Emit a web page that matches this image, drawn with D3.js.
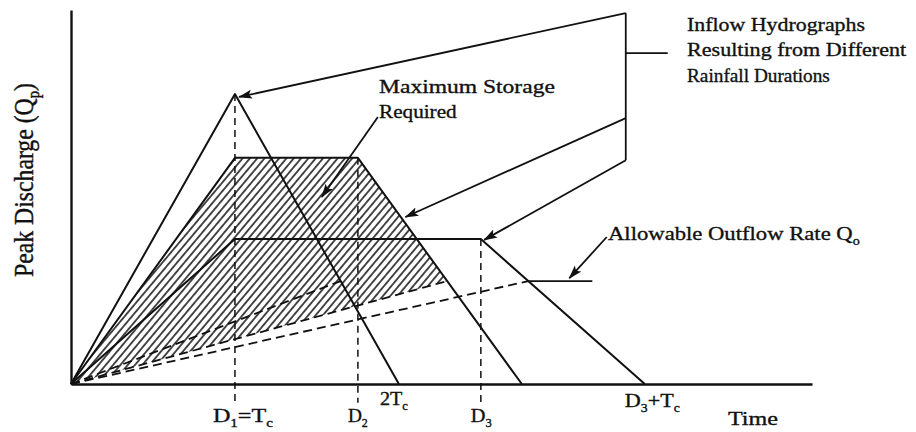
<!DOCTYPE html>
<html>
<head>
<meta charset="utf-8">
<script src="https://cdn.jsdelivr.net/npm/d3@7"></script>
<style>
  body { margin: 0; background: #fff; }
  svg { display: block; }
  text { font-family: "Liberation Serif", "Times New Roman", serif; fill: #111; stroke: #111; stroke-width: 0.35px; }
</style>
</head>
<body>
<div id="chart"></div>
<script>
// time in units of Tc, discharge relative to the peak of the shortest storm
const tc = 1;
const durations = [1, 1.75, 2.5];        // D1, D2, D3
const peakQ = [1.0, 0.78, 0.5];          // peak / plateau of each inflow hydrograph
const outflowQ = 0.355;                  // allowable outflow rate Qo
const timeMax = 4.52, qMax = 1.29;

// texts ("_x" = subscript x)
const durationLabels = ["D_1=T_c", "D_2", "D_3"];
const endLabels = ["2T_c", "D_3+T_c"];
const axisTitles = ["Time", "Peak Discharge (Q_p)"];
const notes = ["Maximum Storage", "Required", "Inflow Hydrographs",
  "Resulting from Different", "Rainfall Durations", "Allowable Outflow Rate Q_o"];

var margin = {top: 10, right: 104, bottom: 48, left: 71},
  width = 916 - margin.left - margin.right,
  height = 432 - margin.top - margin.bottom;

let root = d3.select("#chart").append("svg")
  .attr("width", 916).attr("height", 432);
let svg = root.append("g")
  .attr("transform", "translate(" + margin.left + "," + margin.top + ")");

var x = d3.scaleLinear().domain([0, timeMax]).range([0, width]);
var y = d3.scaleLinear().domain([0, qMax]).range([height, 0]);
var line = d3.line().x(d => x(d[0])).y(d => y(d[1]));

let defs = root.append("defs");
defs.append("pattern")
  .attr("id", "hatch").attr("patternUnits", "userSpaceOnUse")
  .attr("width", 5.6).attr("height", 10)
  .attr("patternTransform", "rotate(40)")
  .append("line")
  .attr("x1", 2.8).attr("y1", 0).attr("x2", 2.8).attr("y2", 10)
  .attr("stroke", "#111").attr("stroke-width", 1.5);
defs.append("marker")
  .attr("id", "head").attr("markerUnits", "userSpaceOnUse")
  .attr("viewBox", "0 -5 14 10").attr("refX", 13).attr("refY", 0)
  .attr("markerWidth", 14).attr("markerHeight", 10).attr("orient", "auto")
  .append("path").attr("d", "M0,-4.5L14,0L0,4.5L3,0Z").attr("fill", "#111");

// inflow hydrographs: rise over Tc, plateau to D, recede over Tc
let hydro = durations.map((d, i) => [[0, 0], [tc, peakQ[i]], [d, peakQ[i]], [d + tc, 0]]);
// outflow rises linearly until it meets the receding limb at Qo
let outEnd = durations.map((d, i) => [d + tc * (1 - outflowQ / peakQ[i]), outflowQ]);

// maximum storage (hatched) = hydrograph 2 above its outflow line
svg.append("path")
  .datum([[0, 0], [tc, peakQ[1]], [durations[1], peakQ[1]], outEnd[1], [0, 0]])
  .attr("fill", "url(#hatch)").attr("stroke", "none")
  .attr("d", line);

// axes
svg.append("g")
  .attr("transform", "translate(0," + height + ")")
  .call(d3.axisBottom(x).tickValues([]).tickSizeOuter(0))
  .select(".domain").attr("stroke", "#111").attr("stroke-width", 2.4);
svg.append("g")
  .call(d3.axisLeft(y).tickValues([]).tickSizeOuter(0))
  .select(".domain").attr("stroke", "#111").attr("stroke-width", 2.4);

// hydrographs
svg.selectAll(".hydro").data(hydro).enter().append("path")
  .attr("class", "hydro")
  .attr("fill", "none").attr("stroke", "#111").attr("stroke-width", 2)
  .attr("stroke-linejoin", "round")
  .attr("d", line);

// outflow lines
svg.selectAll(".outflow").data(outEnd).enter().append("path")
  .attr("class", "outflow")
  .attr("fill", "none").attr("stroke", "#111").attr("stroke-width", 1.8)
  .attr("stroke-dasharray", "9,5")
  .attr("d", d => line([[0, 0], d]));

// duration markers
svg.selectAll(".dur").data(durations).enter().append("line")
  .attr("class", "dur")
  .attr("x1", d => x(d)).attr("x2", d => x(d))
  .attr("y1", (d, i) => y(peakQ[i])).attr("y2", y(-0.065))
  .attr("stroke", "#111").attr("stroke-width", 1.5)
  .attr("stroke-dasharray", "7,5");

// bracket for the inflow hydrographs
function arrow(a, b) {
  svg.append("path").datum([a, b])
    .attr("fill", "none").attr("stroke", "#111").attr("stroke-width", 1.8)
    .attr("marker-end", "url(#head)")
    .attr("d", line);
}
svg.append("path").datum([[3.384, 1.279], [3.384, 0.772]])
  .attr("fill", "none").attr("stroke", "#111").attr("stroke-width", 1.8).attr("d", line);
svg.append("path").datum([[3.384, 1.141], [3.64, 1.141]])
  .attr("fill", "none").attr("stroke", "#111").attr("stroke-width", 1.8).attr("d", line);
arrow([3.384, 1.279], [1.025, 0.99]);
arrow([3.384, 0.917], [2.04, 0.576]);
arrow([3.384, 0.772], [2.52, 0.497]);
arrow([1.872, 0.921], [1.53, 0.645]);
svg.append("path").datum([outEnd[2], [3.18, outflowQ]])
  .attr("fill", "none").attr("stroke", "#111").attr("stroke-width", 1.8).attr("d", line);
arrow([3.268, 0.507], [3.04, 0.365]);

// fill a text element; "_x" makes x a subscript
function fillText(t, str, size) {
  let shift = 0;
  str.split(/_(\w)/).forEach((s, i) => {
    if (!s) return;
    let sub = i % 2 === 1;
    let dy = (sub ? 5 : 0) - shift;
    shift = sub ? 5 : 0;
    t.append("tspan").attr("dy", dy)
      .style("font-size", (sub ? size * 0.62 : size) + "px").text(s);
  });
}

// text helper: place at (px, py), stretch to the given width
function label(str, px, py, w, size) {
  let g = root.append("g");
  let t = g.append("text").style("font-size", size + "px");
  fillText(t, str, size);
  let bw = t.node().getBBox().width;
  g.attr("transform", "translate(" + px + "," + py + ") scale(" + (w / bw) + ",1)");
  return g;
}

let fs = 19.5;
label(notes[0], 379, 93, 176, fs);
label(notes[1], 379, 118, 78, fs);
label(notes[2], 687, 31, 178, fs);
label(notes[3], 687, 56, 220, fs);
label(notes[4], 687, 82, 143, fs);
label(notes[5], 608, 240, 252, fs);

label(durationLabels[0], margin.left + x(durations[0]) - 22, 422, 60, fs);
label(durationLabels[1], margin.left + x(durations[1]) - 10, 422, 20, fs);
label(durationLabels[2], margin.left + x(durations[2]) - 10, 422, 21, fs);
label(endLabels[0], margin.left + x(2 * tc) - 19, 405, 28, fs);
label(endLabels[1], margin.left + x(durations[2] + tc) - 20, 407, 55, fs);
label(axisTitles[0], 728, 425, 50, fs);

// rotated y title
{
  let g = root.append("g");
  let t = g.append("text").style("font-size", "23px").attr("text-anchor", "middle");
  fillText(t, axisTitles[1], 23);
  let bw = t.node().getBBox().width;
  g.attr("transform", "translate(33,180) rotate(-90) scale(" + (194 / bw) + ",1.15)");
}
</script>
</body>
</html>
